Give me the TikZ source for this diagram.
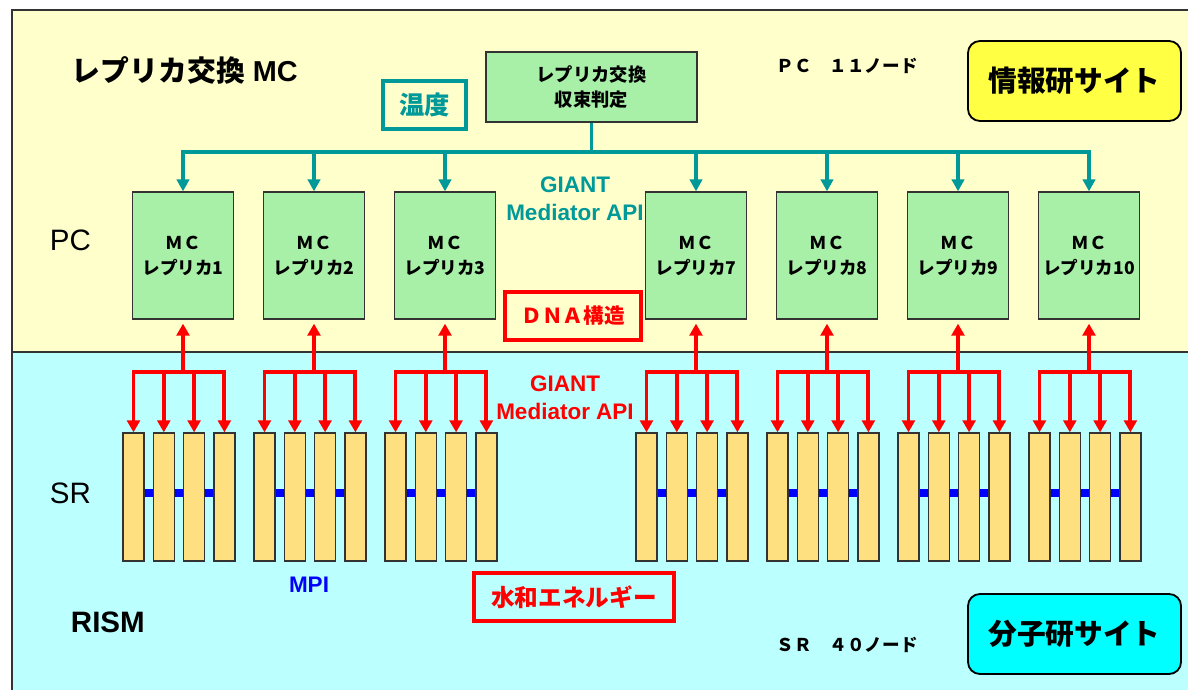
\documentclass[tikz,border=0pt]{standalone}
\usepackage{fontspec}
\usepackage{xcolor}
\usetikzlibrary{positioning, arrows.meta, calc}
\setmainfont{Liberation Sans}
\newfontfamily\jp{Noto Sans CJK JP}
\definecolor{paleyellow}{HTML}{FFFFCC}
\definecolor{palecyan}{HTML}{BBFFFF}
\definecolor{mintgreen}{HTML}{A8F0A8}
\definecolor{barorange}{HTML}{FFE080}
\definecolor{sitegold}{HTML}{FFFF44}
\definecolor{siteaqua}{HTML}{00FFFF}
\definecolor{tealline}{HTML}{009999}
\definecolor{edgegray}{HTML}{333333}

\begin{document}
\begin{tikzpicture}[x=0.025cm, y=-0.025cm,
    greenbox/.style={draw=edgegray, line width=0.9pt, fill=mintgreen, align=center, inner sep=0pt},
    replica/.style={greenbox, minimum width=2.525cm, minimum height=3.175cm,
        font=\jp\bfseries\fontsize{12.5}{17.8}\selectfont},
    srbar/.style={draw=edgegray, line width=0.9pt, fill=barorange,
        minimum width=0.525cm, minimum height=3.2cm, inner sep=0pt},
    sitebox/.style={draw=black, line width=1.3pt, rounded corners=0.3cm,
        minimum width=5.325cm, minimum height=2cm, font=\jp\bfseries\fontsize{20.4}{24}\selectfont},
    redbox/.style={draw=red, line width=2.2pt, minimum height=1.2cm, inner sep=0pt, text=red},
    tealarrow/.style={draw=tealline, line width=2.4pt, line cap=rect, -{Triangle[width=0.31cm, length=0.3cm]}},
    redline/.style={draw=red, line width=2.8pt, line cap=rect},
    redarrow/.style={redline, -{Triangle[width=0.32cm, length=0.3cm]}},
    mpilink/.style={draw=blue, line width=5pt}
  ]
    \useasboundingbox (0,0) rectangle (1188,690);
    \fill[paleyellow] (12,10) rectangle (1188,352);
    \fill[palecyan] (12,352) rectangle (1188,690);
    \draw[edgegray, line width=1pt] (1188,10) -- (12,10) -- (12,690);
    \draw[edgegray, line width=1pt] (12,352) -- (1188,352);

    % PC side
    \node[anchor=west, font=\bfseries\fontsize{20.5}{24}\selectfont] (title) at (67,70) {{\jp レプリカ交換} MC};
    \node[greenbox, minimum width=5.275cm, minimum height=1.75cm,
          font=\jp\bfseries\fontsize{13}{17.8}\selectfont] (judge) at (591.5,87) {レプリカ交換\\収束判定};
    \node[draw=tealline, line width=2.2pt, minimum width=2.075cm, minimum height=1.2cm, inner sep=0pt,
          text=tealline, font=\jp\bfseries\fontsize{18}{20}\selectfont] (temp) at (424.5,105) {温度};
    \node[anchor=west, font=\jp\bfseries\fontsize{12.5}{15}\selectfont] (pcnodes) at (772,66) {ＰＣ　１１ノード};
    \node[sitebox, fill=sitegold] (infosite) at (1074.5,81) {情報研サイト};
    \node[align=center, text=tealline, font=\bfseries\fontsize{16}{20}\selectfont] (giantpc) at (575,199) {GIANT\\Mediator API};
    \node[redbox, minimum width=3.4cm, font=\jp\bfseries\fontsize{14.7}{17}\selectfont] (dna) at (573,316) {ＤＮＡ構造};
    \node[anchor=west, font=\fontsize{21}{25}\selectfont] (pclabel) at (45,240) {PC};

    % SR side
    \node[align=center, text=red, font=\bfseries\fontsize{16}{20}\selectfont] (giantsr) at (565,398) {GIANT\\Mediator API};
    \node[anchor=west, font=\fontsize{21}{25}\selectfont] (srlabel) at (45,493) {SR};
    \node[anchor=west, font=\bfseries\fontsize{21}{25}\selectfont] (rism) at (66,622) {RISM};
    \node[text=blue, font=\bfseries\fontsize{16}{20}\selectfont] (mpi) at (309,585) {MPI};
    \node[redbox, minimum width=5cm, font=\jp\bfseries\fontsize{16.8}{19}\selectfont] (water) at (574,597) {水和エネルギー};
    \node[anchor=west, font=\jp\bfseries\fontsize{12.5}{15}\selectfont] (srnodes) at (772,645) {ＳＲ　４０ノード};
    \node[sitebox, fill=siteaqua] (molsite) at (1074.5,634) {分子研サイト};

    \foreach \cx/\n in {183/1, 314/2, 445/3, 696/7, 827/8, 958/9, 1089/10} {
        \node[replica] (rep\n) at (\cx,255.5) {ＭＣ\\レプリカ\n};
        \coordinate (tb\n) at (\cx,152);
        \coordinate (rb\n) at (\cx,372);
        \foreach \k in {1,...,4}
            \node[srbar] (bar\n-\k) at ({\cx-49.5+30.3*(\k-1)},497) {};
        \draw[tealarrow] (tb\n) -- (rep\n.north);
        \draw[redarrow, shorten >=0.1cm] (rb\n) -- (rep\n.south);
        \draw[redline] (bar\n-1.north |- rb\n) -- (bar\n-4.north |- rb\n);
        \foreach \k in {1,...,4}
            \draw[redarrow] (bar\n-\k.north |- rb\n) -- (bar\n-\k.north);
        \foreach \k/\j in {1/2, 2/3, 3/4}
            \draw[mpilink] ([yshift=0.1cm]bar\n-\k.east) -- ([yshift=0.1cm]bar\n-\j.west);
    }
    \draw[draw=tealline, line width=2.4pt, line cap=rect] (tb1) -- (tb10);
    \draw[draw=tealline, line width=2.4pt] (judge.south) -- (judge.south |- tb1);
\end{tikzpicture}
\end{document}
